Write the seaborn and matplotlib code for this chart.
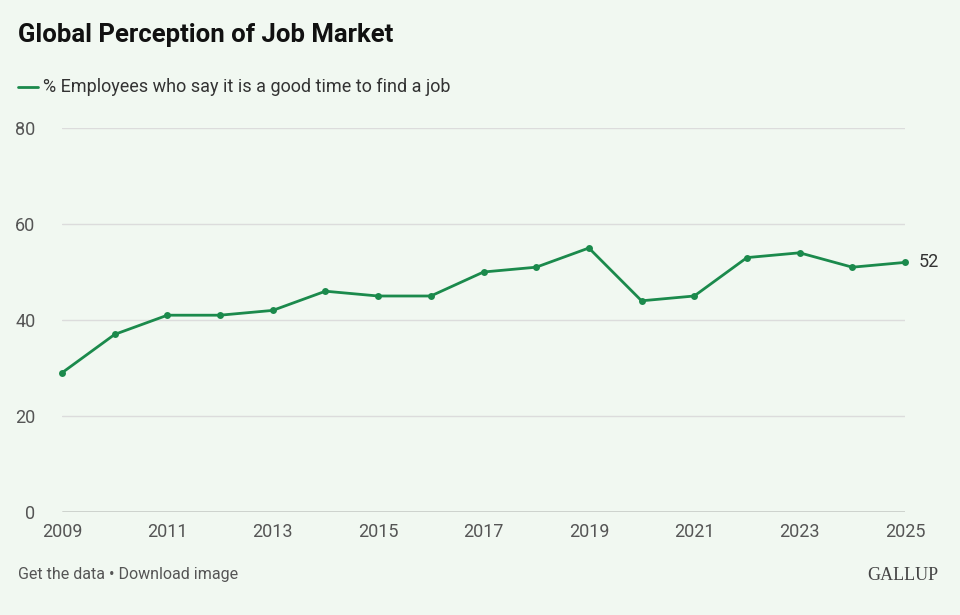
import matplotlib
matplotlib.use("Agg")
import matplotlib.pyplot as plt
import seaborn as sns
import pandas as pd

years = list(range(2009, 2026))
values = [29, 37, 41, 41, 42, 46, 45, 45, 50, 51, 55, 44, 45, 53, 54, 51, 52]
xticks = [2009, 2011, 2013, 2015, 2017, 2019, 2021, 2023, 2025]
yticks = [0, 20, 40, 60, 80]
series_name = "% Employees who say it is a good time to find a job"

sns.set_theme(style="white")
plt.rcParams['font.family'] = ['Roboto', 'DejaVu Sans']
bg = "#f1f8f1"
green = "#1b8a4c"
df = pd.DataFrame({"year": years, "value": values})

fig = plt.figure(figsize=(9.6, 6.15), dpi=100, facecolor=bg)
ax = fig.add_axes([62/960, 1-512/615, (905-62)/960, (512-128)/615])
ax.set_facecolor(bg)
sns.lineplot(data=df, x="year", y="value", ax=ax, color=green, linewidth=2,
             marker="o", markersize=5, markeredgewidth=0, clip_on=False)
ax.set_xlim(2009, 2025)
ax.set_ylim(0, 80)
ax.set_xticks(xticks)
ax.set_yticks(yticks)
ax.set_xlabel("")
ax.set_ylabel("")
for s in ax.spines.values():
    s.set_visible(False)
ax.axhline(0, color="#555555", linewidth=1, zorder=1)
ax.grid(axis="y", color="#dcdcdc", linewidth=1)
ax.set_axisbelow(True)
ax.tick_params(axis="both", length=0, labelsize=13, colors="#555555")
ax.tick_params(axis="y", pad=19)
ax.tick_params(axis="x", pad=8)
ax.annotate(str(values[-1]), (years[-1], values[-1]), xytext=(10, 0), textcoords="offset points",
            va="center", ha="left", fontsize=13, color="#333333")

fig.text(18/960, 1-35/615, "Global Perception of Job Market", fontsize=18.5, fontweight="bold",
         color="#111111", va="center")
fig.add_artist(plt.Line2D([18/960, 38/960], [1-87/615, 1-87/615], color=green, linewidth=2))
fig.text(43/960, 1-87/615, series_name, fontsize=13, color="#333333", va="center")
fig.text(18/960, 1-575/615, "Get the data • Download image", fontsize=11.5, color="#555555", va="center")
fig.text(938/960, 1-575/615, "GALLUP", fontsize=13, color="#444444", va="center", ha="right",
         family=["Liberation Serif", "DejaVu Serif"])
fig.savefig("out.png", dpi=100, facecolor=bg)
